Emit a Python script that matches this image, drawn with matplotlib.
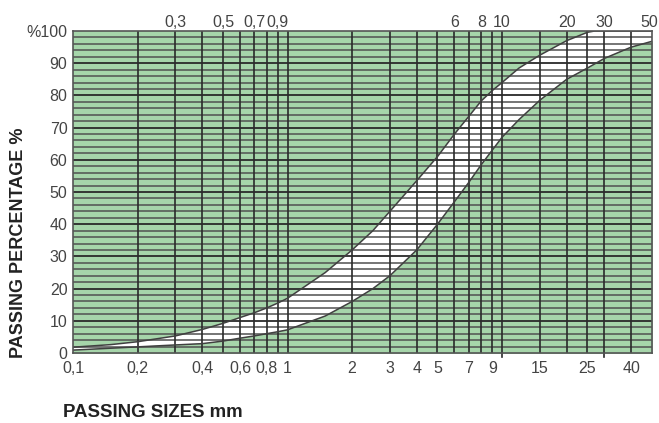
import matplotlib
matplotlib.use("Agg")
import matplotlib.pyplot as plt
from matplotlib import font_manager

# passing sizes (mm) and passing percentages
upper_size = [0.1, 0.15, 0.2, 0.3, 0.4, 0.5, 0.6, 0.7, 0.8, 0.9, 1, 1.5, 2, 2.5, 3,
              4, 5, 6, 7, 8, 9, 10, 12, 15, 20, 25, 27, 50]
upper_pct = [1.8, 2.6, 3.5, 5.3, 7.3, 9.2, 11, 12.5, 14, 15.5, 17, 25, 32, 38, 44,
             53.5, 61, 68, 73.5, 78.3, 81.5, 84, 88.5, 92.5, 97, 99.6, 100, 100]

lower_size = [0.1, 0.2, 0.3, 0.4, 0.5, 0.6, 0.7, 0.8, 0.9, 1, 1.5, 2, 2.5, 3,
              4, 5, 6, 7, 8, 9, 10, 12, 15, 20, 25, 30, 40, 50]
lower_pct = [0.9, 1.9, 2.5, 2.9, 3.7, 4.6, 5.3, 6, 6.6, 7.2, 11.5, 16, 20, 24,
             32, 40, 47, 53, 58.5, 63, 67, 72.5, 78.5, 85, 88.5, 91.5, 95, 96.8]

grid_sizes = [0.2, 0.3, 0.4, 0.5, 0.6, 0.7, 0.8, 0.9, 1, 2, 3, 4, 5, 6, 7, 8, 9,
              10, 15, 20, 25, 30, 40]
bottom_ticks = [0.1, 0.2, 0.4, 0.6, 0.8, 1, 2, 3, 4, 5, 7, 9, 15, 25, 40]
bottom_labels = ["0,1", "0,2", "0,4", "0,6", "0,8", "1", "2", "3", "4", "5", "7", "9",
                 "15", "25", "40"]
top_ticks = [0.3, 0.5, 0.7, 0.9, 6, 8, 10, 20, 30, 50]
top_labels = ["0,3", "0,5", "0,7", "0,9", "6", "8", "10", "20", "30", "50"]
y_ticks = list(range(0, 101, 10))
y_labels = [str(v) for v in y_ticks[:-1]] + ["%100"]

# a narrow face for the numbers if one is installed, else plain Liberation Sans
installed = {f.name for f in font_manager.fontManager.ttflist}
if 'Liberation Sans Narrow' in installed:
    num_font, num_size = 'Liberation Sans Narrow', 13
else:
    num_font, num_size = 'Liberation Sans', 11.5
plt.rcParams['font.family'] = ['Liberation Sans', 'DejaVu Sans']

green = '#a6d5aa'
txt = '#444444'

fig = plt.figure(figsize=(6.59, 4.23), dpi=100)
ax = fig.add_axes([0.1108, 0.1655, 0.8786, 0.7612])
ax.set_xscale('log')
ax.set_xlim(0.1, 50)
ax.set_ylim(0, 100)
ax.set_facecolor(green)

ax.fill_between(upper_size, upper_pct, 0, color='white', zorder=1)
ax.fill_between(lower_size, lower_pct, 0, color=green, zorder=1.5)
ax.plot(upper_size, upper_pct, color='#404040', lw=1.1, zorder=4)
ax.plot(lower_size, lower_pct, color='#404040', lw=1.1, zorder=4)

for p in range(2, 100, 2):
    dark = p % 10 == 0
    ax.axhline(p, color='#2a2a2a' if dark else '#505050', lw=1.3 if dark else 1.1, zorder=3)
for s in grid_sizes:
    ax.axvline(s, color='#2a2a2a', lw=1.2, zorder=3)
for s in [10, 30]:
    ax.axvline(s, ymin=-0.012, ymax=0, color='#2a2a2a', lw=1.2, clip_on=False)

for sp in ax.spines.values():
    sp.set_color('#555555')
    sp.set_linewidth(1.2)
    sp.set_zorder(5)

ax.minorticks_off()
ax.set_xticks(bottom_ticks)
ax.set_xticklabels(bottom_labels, family=num_font, fontsize=num_size, color=txt)
ax.tick_params(axis='x', length=0, pad=6)
ax.set_yticks(y_ticks)
ax.set_yticklabels(y_labels, family=num_font, fontsize=num_size, color=txt)
ax.tick_params(axis='y', length=0, pad=4)

for s, lbl in zip(top_ticks, top_labels):
    dx = -2 if lbl == "50" else 0
    ax.annotate(lbl, xy=(s, 1), xycoords=('data', 'axes fraction'),
                xytext=(dx, 3), textcoords='offset points', ha='center', va='baseline',
                family=num_font, fontsize=num_size, color=txt)

fig.text(0.0288, 0.4255, "PASSING PERCENTAGE %", rotation=90, ha='center', va='center',
         fontsize=13, fontweight='bold', color='#222222')
fig.text(0.0956, 0.0243, "PASSING SIZES mm", ha='left', va='center',
         fontsize=13.4, fontweight='bold', color='#222222')

fig.savefig("out.png", dpi=100)
